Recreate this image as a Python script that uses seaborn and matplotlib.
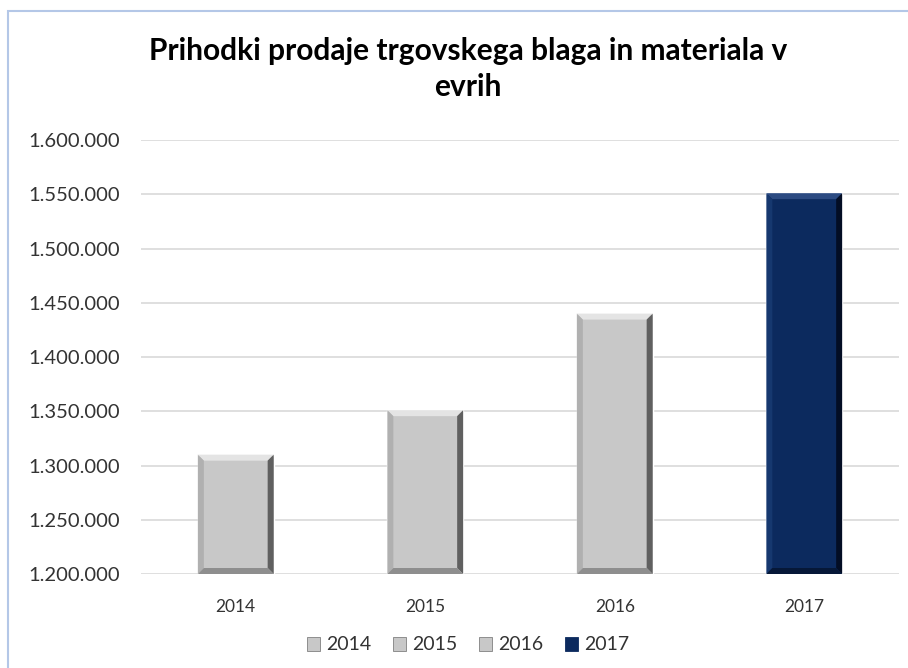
import numpy as np
import pandas as pd
import seaborn as sns
import matplotlib.pyplot as plt
from matplotlib.patches import Polygon, Rectangle, Patch
from matplotlib.ticker import FuncFormatter

# Data
years = ["2014", "2015", "2016", "2017"]
revenue = [1310000, 1351000, 1440000, 1551000]

title = "Prihodki prodaje trgovskega blaga in materiala v\nevrih"

gray = "#c8c8c8"
navy = "#0c2a5e"
palette = {"2014": gray, "2015": gray, "2016": gray, "2017": navy}
# bevel colours: (top, left, right, bottom)
bevels = {
    gray: ("#e4e4e4", "#b0b0b0", "#606060", "#8e8e8e"),
    navy: ("#2c4b82", "#16386f", "#030d24", "#061838"),
}

df = pd.DataFrame({"year": years, "revenue": revenue})

sns.set_theme(style="white")
plt.rcParams["font.family"] = ["Lato", "DejaVu Sans"]

fig = plt.figure(figsize=(9.08, 6.68), dpi=100)
ax = fig.add_axes([141 / 908, 94 / 668, 758 / 908, 434 / 668])

sns.barplot(data=df, x="year", y="revenue", hue="year", palette=palette,
            width=0.4, dodge=False, legend=False, ax=ax, saturation=1)

ax.set_ylim(1200000, 1600000)
ax.set_xlim(-0.5, 3.5)
ax.set_yticks(np.arange(1200000, 1600001, 50000))
ax.yaxis.set_major_formatter(FuncFormatter(lambda v, p: f"{int(v):,}".replace(",", ".")))
ax.grid(axis="y", color="#d9d9d9", linewidth=1.2)
ax.set_axisbelow(True)
for s in ax.spines.values():
    s.set_visible(False)
ax.tick_params(axis="y", labelsize=14.5, pad=15, colors="#333333", length=0)
ax.tick_params(axis="x", labelsize=12.5, pad=18, colors="#333333", length=0)
ax.set_xlabel("")
ax.set_ylabel("")

# bevel effect: edge width in pixels converted to data units
px_x = 0.4 / 76
px_y = 400000 / 434
bw = 6
for bar in ax.patches:
    x0, y0 = bar.get_x(), bar.get_y()
    x1, y1 = x0 + bar.get_width(), y0 + bar.get_height()
    y0 = max(y0, 1200000)
    fc = gray if bar.get_facecolor()[0] > 0.5 else navy
    top, left, right, bottom = bevels[fc]
    dx, dy = bw * px_x, bw * px_y
    polys = [
        ([(x0, y1), (x1, y1), (x1 - dx, y1 - dy), (x0 + dx, y1 - dy)], top),
        ([(x0, y0), (x0, y1), (x0 + dx, y1 - dy), (x0 + dx, y0 + dy)], left),
        ([(x1, y0), (x1, y1), (x1 - dx, y1 - dy), (x1 - dx, y0 + dy)], right),
        ([(x0, y0), (x1, y0), (x1 - dx, y0 + dy), (x0 + dx, y0 + dy)], bottom),
    ]
    for pts, c in polys:
        ax.add_patch(Polygon(pts, closed=True, facecolor=c, edgecolor="none", zorder=3))

# legend
handles = [Patch(facecolor=palette[y], edgecolor="#808080" if palette[y] == gray else navy,
                 linewidth=0.6) for y in years]
fig.legend(handles, years, loc="center", bbox_to_anchor=(468 / 908, 1 - 645 / 668),
           ncol=4, frameon=False, fontsize=14, handlelength=0.7, handleheight=0.7,
           handletextpad=0.3, columnspacing=1.1, labelcolor="#333333")

fig.text(468 / 908, 1 - 69 / 668, title, ha="center", va="center",
         fontsize=21.5, fontweight="bold", color="#000000", linespacing=1.35)

# outer chart border (light blue)
fig.add_artist(Rectangle((8 / 908, -0.05), 1.1, 1 - 11 / 668 + 0.05,
                         transform=fig.transFigure, fill=False,
                         edgecolor="#b4c7e7", linewidth=1.5))

fig.savefig("out.png", dpi=100, facecolor="white")
